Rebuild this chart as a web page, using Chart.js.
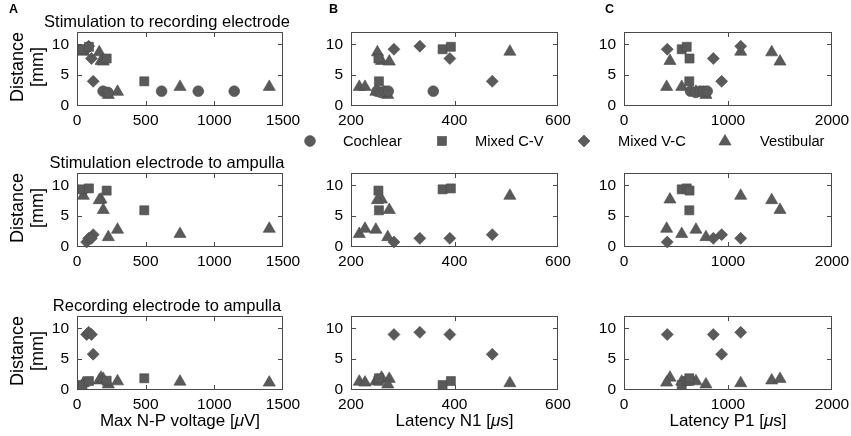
<!DOCTYPE html>
<html>
<head>
<meta charset="utf-8">
<script src="https://cdn.jsdelivr.net/npm/chart.js@4.4.1/dist/chart.umd.min.js"></script>
<style>
  body { margin: 0; width: 851px; height: 436px; background: #fff; position: relative; overflow: hidden;
         font-family: 'Liberation Sans', Arial, sans-serif; color: #000; }
  canvas { position: absolute; }
  .txt { position: absolute; white-space: nowrap; line-height: 20px; }
  .letter { position: absolute; font-weight: bold; font-size: 12.5px; line-height: 14px; }
  .title { font-size: 16.5px; text-align: center; width: 320px; }
  .xtitle { font-size: 17px; text-align: center; width: 300px; }
  .ytitle { font-size: 18px; text-align: center; width: 120px; height: 40px; transform: rotate(-90deg); }
  .leg { font-size: 14.7px; }
</style>
</head>
<body>
<script>
// tick labels
const voltageTicks = [0, 500, 1000, 1500];
const n1Ticks = [200, 400, 600];
const p1Ticks = [0, 1000, 2000];
const distTicks = [0, 5, 10];

const categories = ['Cochlear', 'Mixed C-V', 'Mixed V-C', 'Vestibular'];

// Cochlear (no ampulla distances)
const cochlearVoltage = [190, 225, 616, 883, 1145];
const cochlearN1 = [250, 258, 265, 272, 359];
const cochlearP1 = [640, 690, 730, 765, 800];
const cochlearStimRec = [2.4, 2.2, 2.4, 2.4, 2.4];
const cochlearStimAmp = [null, null, null, null, null];
const cochlearRecAmp = [null, null, null, null, null];

// Mixed C-V
const mixedCVVoltage = [40, 87, 216, 490];
const mixedCVN1 = [377, 393, 253, 254];
const mixedCVP1 = [555, 603, 630, 628];
const mixedCVStimRec = [9.2, 9.6, 7.7, 4.0];
const mixedCVStimAmp = [9.35, 9.5, 9.15, 5.95];
const mixedCVRecAmp = [0.8, 1.45, 1.5, 1.9];

// Mixed V-C
const mixedVCVoltage = [118, 70, 85, 105];
const mixedVCN1 = [473, 283, 333, 391];
const mixedVCP1 = [939, 416, 1122, 859];
const mixedVCStimRec = [4.0, 9.2, 9.7, 7.7];
const mixedVCStimAmp = [2.0, 0.8, 1.4, 1.4];
const mixedVCRecAmp = [5.8, 9.0, 9.35, 9.0];

// Vestibular
const vestVoltage = [46, 175, 162, 191, 228, 295, 750, 1400];
const vestN1 = [507, 259, 251, 274, 271, 248, 216, 227];
const vestP1 = [1122, 442, 1420, 1500, 788, 692, 555, 410];
const vestStimRec = [8.8, 7.3, 8.7, 7.2, 1.8, 2.3, 3.1, 3.1];
const vestStimAmp = [8.3, 7.7, 7.6, 6.0, 1.6, 2.8, 2.1, 2.95];
const vestRecAmp = [1.1, 2.0, 1.55, 1.8, 0.9, 1.4, 1.35, 1.2];

const rowTitles = ['Stimulation to recording electrode', 'Stimulation electrode to ampulla', 'Recording electrode to ampulla'];

const MARK = '#5a5a5a';
const MARK_EDGE = '#4a4a4a';
const FRAME = '#4a4a4a';
const TICK_FONT = { family: "'Liberation Sans', Arial, sans-serif", size: 15.5 };

const groups = [
  { label: categories[0], style: 'circle', radius: 5.4, voltage: cochlearVoltage, n1: cochlearN1, p1: cochlearP1,
    dist: [cochlearStimRec, cochlearStimAmp, cochlearRecAmp] },
  { label: categories[1], style: 'rect', radius: 6.4, voltage: mixedCVVoltage, n1: mixedCVN1, p1: mixedCVP1,
    dist: [mixedCVStimRec, mixedCVStimAmp, mixedCVRecAmp] },
  { label: categories[2], style: 'rectRot', radius: 6, voltage: mixedVCVoltage, n1: mixedVCN1, p1: mixedVCP1,
    dist: [mixedVCStimRec, mixedVCStimAmp, mixedVCRecAmp] },
  { label: categories[3], style: 'triangle', radius: 7, voltage: vestVoltage, n1: vestN1, p1: vestP1,
    dist: [vestStimRec, vestStimAmp, vestRecAmp] }
];

const COLS = [
  { left: 77, right: 283, key: 'voltage', min: 0, max: 1500, ticks: voltageTicks },
  { left: 351, right: 558, key: 'n1', min: 200, max: 600, ticks: n1Ticks },
  { left: 624, right: 832, key: 'p1', min: 0, max: 2000, ticks: p1Ticks }
];
const ROW_TOPS = [32, 173, 316];
const PLOT_H = 74;
const Y_W = 40, X_H = 25, PAD_T = 10, PAD_R = 25;

// box round the plot area, with short inward ticks on all four sides
// (filled 1px rects, drawn under the markers)
const boxFrame = {
  id: 'boxFrame',
  beforeDatasetsDraw(chart) {
    const ctx = chart.ctx;
    const a = chart.chartArea;
    const x = chart.scales.x, y = chart.scales.y;
    const L = Math.round(a.left), R = Math.round(a.right), T = Math.round(a.top), B = Math.round(a.bottom);
    ctx.save();
    ctx.globalAlpha = 1;
    ctx.globalCompositeOperation = 'source-over';
    ctx.fillStyle = FRAME;
    ctx.fillRect(L, T, R - L, 1);
    ctx.fillRect(L, B - 1, R - L, 1);
    ctx.fillRect(L, T, 1, B - T);
    ctx.fillRect(R - 1, T, 1, B - T);
    x.ticks.forEach(t => {
      const px = Math.min(R - 1, Math.round(x.getPixelForValue(t.value)));
      ctx.fillRect(px, B - 5, 1, 5);
      ctx.fillRect(px, T, 1, 5);
    });
    y.ticks.forEach(t => {
      const py = Math.min(B - 1, Math.round(y.getPixelForValue(t.value)));
      ctx.fillRect(L, py, 5, 1);
      ctx.fillRect(R - 5, py, 5, 1);
    });
    ctx.restore();
  }
};

function makePanel(row, col) {
  const c = COLS[col];
  const w = c.right - c.left + Y_W + PAD_R;
  const h = PLOT_H + PAD_T + X_H;
  const canvas = document.createElement('canvas');
  canvas.width = w; canvas.height = h;
  canvas.style.width = w + 'px'; canvas.style.height = h + 'px';
  canvas.style.left = (c.left - Y_W) + 'px';
  canvas.style.top = (ROW_TOPS[row] - PAD_T) + 'px';
  document.body.appendChild(canvas);

  const datasets = groups.map(g => ({
    label: g.label,
    data: g[c.key].map((x, i) => ({ x: x, y: g.dist[row][i] })).filter(p => p.y !== null),
    pointStyle: g.style,
    pointRadius: g.radius,
    pointHoverRadius: g.radius,
    backgroundColor: MARK,
    borderColor: MARK_EDGE,
    borderWidth: 0.6,
    clip: false
  }));

  return new Chart(canvas, {
    type: 'scatter',
    data: { datasets: datasets },
    options: {
      responsive: false,
      animation: false,
      events: [],
      layout: { padding: { left: 0, top: PAD_T, right: PAD_R, bottom: 0 } },
      plugins: { legend: { display: false }, tooltip: { enabled: false } },
      scales: {
        x: {
          type: 'linear', min: c.min, max: c.max,
          grid: { display: false, drawTicks: false }, border: { display: false },
          ticks: { font: TICK_FONT, color: '#000', padding: 5, maxRotation: 0, autoSkip: false,
                   callback: v => String(v) },
          afterBuildTicks: s => { s.ticks = c.ticks.map(v => ({ value: v })); },
          afterFit: s => { s.height = X_H; s.paddingLeft = 0; s.paddingRight = 0; }
        },
        y: {
          type: 'linear', min: 0, max: 12,
          grid: { display: false, drawTicks: false }, border: { display: false },
          ticks: { font: TICK_FONT, color: '#000', padding: 8, autoSkip: false, callback: v => String(v) },
          afterBuildTicks: s => { s.ticks = distTicks.map(v => ({ value: v })); },
          afterFit: s => { s.width = Y_W; s.paddingTop = 0; s.paddingBottom = 0; }
        }
      }
    },
    plugins: [boxFrame]
  });
}

function addText(cls, html, left, top) {
  const d = document.createElement('div');
  d.className = cls;
  d.innerHTML = html;
  d.style.left = left + 'px';
  d.style.top = top + 'px';
  document.body.appendChild(d);
  return d;
}

for (let r = 0; r < 3; r++) {
  for (let c = 0; c < 3; c++) makePanel(r, c);
  addText('txt title', rowTitles[r], 167 - 160, ROW_TOPS[r] - 5 - 15.7);
  const cy = ROW_TOPS[r] + PLOT_H / 2 - 2;
  addText('txt ytitle', 'Distance<br>[mm]', 27 - 60, cy - 20);
}

addText('letter', 'A', 9, 2);
addText('letter', 'B', 329, 2);
addText('letter', 'C', 605, 2);

const xTitles = ['Max N-P voltage [<i>&mu;</i>V]', 'Latency N1 [<i>&mu;</i>s]', 'Latency P1 [<i>&mu;</i>s]'];
xTitles.forEach((t, i) => {
  const mid = (COLS[i].left + COLS[i].right) / 2;
  addText('txt xtitle', t, mid - 150, 411);
});

// legend
const legendShapes = [
  '<circle cx="8" cy="8" r="5.4"/>',
  '<rect x="3.5" y="3.5" width="9" height="9"/>',
  '<polygon points="8,2 14,8 8,14 2,8"/>',
  '<polygon points="8,1.5 14.1,12 1.9,12"/>'
];
const legendMarkX = [310, 442, 584, 725];
const legendTextX = [343, 475, 618, 760];
const LEG_Y = 141;
categories.forEach((name, i) => {
  addText('txt', '<svg width="16" height="16" style="display:block"><g fill="' + MARK + '" stroke="' + MARK_EDGE +
    '" stroke-width="0.6">' + legendShapes[i] + '</g></svg>', legendMarkX[i] - 8, LEG_Y - 8);
  addText('txt leg', name, legendTextX[i], LEG_Y - 10.5);
});
</script>
</body>
</html>
